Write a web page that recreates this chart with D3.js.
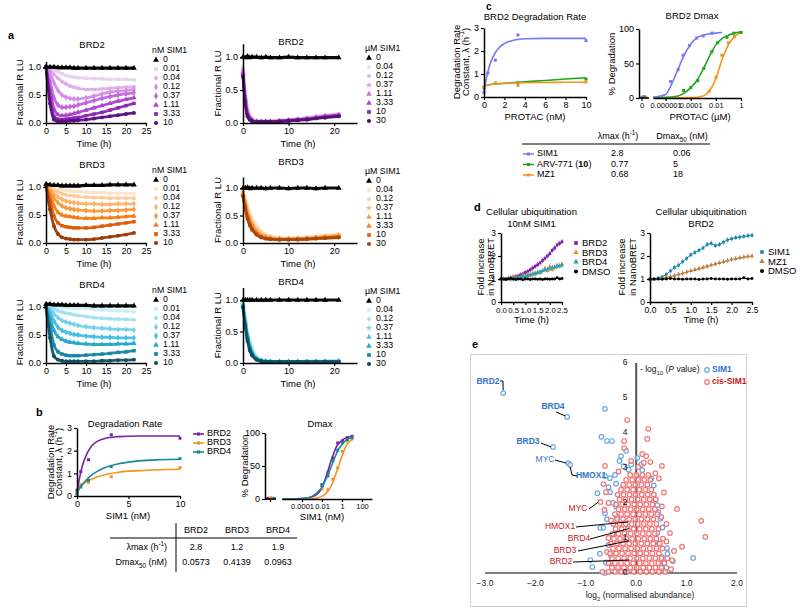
<!DOCTYPE html>
<html><head><meta charset="utf-8">
<script src="https://cdn.jsdelivr.net/npm/d3@7"></script>
<style>body{margin:0;background:#fff}svg{font-family:"Liberation Sans",Arial,Helvetica,sans-serif}</style>
</head><body>
<svg id="fig" width="800" height="611"></svg>
<script>
// ================= DATA =================
const tL=[0,1,2,3,4,5,6,7,8,10,12,14,16,18,20,22];
const tR=[0,0.5,1,1.5,2,3,4,5,6,8,10,12,14,16,18,21];
const concNM=["0","0.01","0.04","0.12","0.37","1.11","3.33","10"];
const concUM=["0","0.04","0.12","0.37","1.11","3.33","10","30"];
const brd2NM=[
[1.0,1.0,1.0,0.99,0.99,0.99,0.99,0.98,0.98,0.98,0.98,0.98,0.98,0.98,0.98,0.98],
[1.0,0.98,0.95,0.92,0.88,0.85,0.83,0.82,0.81,0.8,0.79,0.79,0.78,0.78,0.78,0.77],
[1.0,0.95,0.87,0.8,0.74,0.7,0.66,0.64,0.62,0.6,0.6,0.61,0.62,0.63,0.64,0.65],
[1.0,0.9,0.72,0.58,0.5,0.46,0.44,0.43,0.43,0.45,0.48,0.52,0.55,0.57,0.58,0.6],
[1.0,0.75,0.45,0.32,0.28,0.28,0.29,0.3,0.32,0.36,0.4,0.44,0.47,0.5,0.52,0.54],
[1.0,0.6,0.25,0.15,0.13,0.14,0.15,0.17,0.19,0.23,0.27,0.31,0.35,0.39,0.42,0.45],
[1.0,0.45,0.12,0.07,0.06,0.07,0.08,0.09,0.1,0.13,0.16,0.19,0.23,0.27,0.31,0.35],
[1.0,0.35,0.06,0.03,0.03,0.03,0.04,0.04,0.05,0.06,0.08,0.1,0.12,0.14,0.16,0.18]];
const brd2UM=[
[1.0,0.99,1.01,0.99,1.0,1.0,0.99,1.0,0.99,0.99,1.0,0.99,0.99,0.99,0.99,0.99],
[0.85,0.5,0.25,0.12,0.07,0.04,0.03,0.03,0.03,0.04,0.05,0.07,0.08,0.1,0.12,0.14],
[0.83,0.45,0.2,0.1,0.06,0.03,0.03,0.03,0.03,0.04,0.05,0.06,0.08,0.1,0.11,0.13],
[0.8,0.4,0.18,0.09,0.05,0.03,0.02,0.02,0.03,0.03,0.04,0.06,0.07,0.09,0.11,0.13],
[0.78,0.38,0.16,0.08,0.04,0.02,0.02,0.02,0.02,0.03,0.04,0.05,0.07,0.08,0.1,0.12],
[0.75,0.35,0.14,0.07,0.04,0.02,0.02,0.02,0.02,0.03,0.04,0.05,0.06,0.08,0.1,0.12],
[0.72,0.32,0.12,0.06,0.03,0.02,0.02,0.02,0.02,0.03,0.04,0.05,0.06,0.07,0.09,0.11],
[0.7,0.3,0.1,0.05,0.03,0.02,0.02,0.02,0.02,0.02,0.03,0.04,0.05,0.07,0.08,0.1]];
const brd3NM=[
[1.05,1.04,1.03,1.03,1.02,1.02,1.02,1.02,1.02,1.03,1.03,1.03,1.04,1.04,1.04,1.04],
[1.02,1.0,0.98,0.96,0.95,0.94,0.93,0.92,0.92,0.91,0.9,0.9,0.89,0.89,0.89,0.88],
[1.02,0.98,0.94,0.91,0.88,0.86,0.85,0.84,0.83,0.82,0.81,0.81,0.8,0.8,0.8,0.8],
[1.02,0.96,0.88,0.82,0.78,0.75,0.73,0.72,0.71,0.7,0.7,0.69,0.69,0.7,0.7,0.7],
[1.02,0.92,0.8,0.72,0.66,0.63,0.61,0.6,0.59,0.58,0.57,0.57,0.58,0.58,0.59,0.6],
[1.02,0.85,0.66,0.55,0.5,0.48,0.47,0.46,0.45,0.44,0.44,0.45,0.45,0.46,0.47,0.48],
[1.02,0.75,0.48,0.36,0.31,0.29,0.28,0.27,0.27,0.27,0.28,0.3,0.32,0.34,0.36,0.38],
[1.02,0.6,0.3,0.16,0.1,0.08,0.07,0.06,0.06,0.06,0.07,0.09,0.11,0.13,0.15,0.18]];
const brd3UM=[
[1.0,1.0,1.01,0.99,1.0,1.0,1.0,0.99,1.0,1.0,0.99,1.0,1.0,0.99,1.0,1.0],
[0.95,0.82,0.68,0.56,0.46,0.32,0.22,0.16,0.13,0.1,0.09,0.1,0.11,0.12,0.14,0.16],
[0.93,0.78,0.63,0.5,0.4,0.27,0.19,0.14,0.11,0.09,0.08,0.09,0.1,0.11,0.13,0.15],
[0.92,0.75,0.58,0.46,0.36,0.24,0.16,0.12,0.1,0.08,0.08,0.08,0.09,0.1,0.12,0.14],
[0.9,0.72,0.55,0.43,0.33,0.21,0.14,0.11,0.09,0.07,0.07,0.08,0.09,0.1,0.11,0.13],
[0.88,0.68,0.5,0.38,0.29,0.18,0.12,0.09,0.08,0.07,0.07,0.07,0.08,0.09,0.1,0.12],
[0.86,0.65,0.47,0.35,0.26,0.16,0.11,0.08,0.07,0.06,0.06,0.07,0.07,0.08,0.09,0.11],
[0.85,0.62,0.44,0.32,0.24,0.15,0.1,0.08,0.07,0.06,0.06,0.06,0.07,0.08,0.09,0.1]];
const brd4NM=[
[1.05,1.05,1.04,1.04,1.04,1.03,1.03,1.03,1.03,1.03,1.02,1.02,1.02,1.02,1.02,1.02],
[1.03,1.02,1.01,1.0,1.0,0.99,0.99,0.98,0.98,0.97,0.96,0.95,0.94,0.93,0.93,0.92],
[1.02,0.99,0.96,0.93,0.91,0.89,0.88,0.86,0.85,0.83,0.81,0.8,0.79,0.78,0.78,0.77],
[1.02,0.96,0.88,0.81,0.76,0.73,0.71,0.69,0.67,0.65,0.63,0.62,0.61,0.6,0.6,0.59],
[1.02,0.9,0.75,0.64,0.58,0.55,0.53,0.51,0.5,0.48,0.47,0.46,0.46,0.45,0.45,0.45],
[1.0,0.8,0.58,0.47,0.42,0.39,0.37,0.36,0.35,0.34,0.33,0.33,0.33,0.34,0.34,0.35],
[1.0,0.65,0.32,0.2,0.16,0.14,0.13,0.13,0.13,0.14,0.15,0.16,0.17,0.19,0.2,0.22],
[1.0,0.45,0.12,0.06,0.04,0.03,0.03,0.03,0.03,0.03,0.03,0.04,0.04,0.05,0.05,0.06]];
const brd4UM=[
[1.0,1.0,1.0,1.0,1.0,1.0,1.0,1.0,1.0,1.0,1.0,1.0,1.0,1.0,1.0,1.0],
[0.95,0.72,0.5,0.35,0.24,0.11,0.06,0.04,0.03,0.03,0.03,0.03,0.03,0.03,0.03,0.04],
[0.94,0.7,0.47,0.32,0.21,0.09,0.05,0.03,0.03,0.02,0.02,0.02,0.03,0.03,0.03,0.03],
[0.93,0.67,0.44,0.29,0.19,0.08,0.04,0.03,0.02,0.02,0.02,0.02,0.02,0.02,0.03,0.03],
[0.92,0.65,0.42,0.27,0.17,0.07,0.04,0.03,0.02,0.02,0.02,0.02,0.02,0.02,0.02,0.03],
[0.91,0.63,0.4,0.25,0.15,0.06,0.03,0.02,0.02,0.02,0.02,0.02,0.02,0.02,0.02,0.02],
[0.9,0.61,0.38,0.23,0.14,0.06,0.03,0.02,0.02,0.02,0.02,0.02,0.02,0.02,0.02,0.02],
[0.88,0.58,0.35,0.2,0.12,0.05,0.03,0.02,0.02,0.02,0.02,0.02,0.02,0.02,0.02,0.02]];

// panel b
const bTargets=["BRD2","BRD3","BRD4"];
const bConcPts=[0,0.37,1.11,3.33,10];
const bRatePts=[[0.25,1.08,1.6,2.7,2.55],[0.05,0.5,0.6,0.85,1.25],[0.1,0.4,0.7,1.3,1.65]];
const bFitX=[0,0.25,0.5,1,1.5,2,3,4,6,8,10];
const bRateFit=[[0.2,0.8,1.3,1.9,2.25,2.42,2.57,2.62,2.65,2.65,2.65],
 [0.1,0.35,0.5,0.65,0.76,0.85,0.97,1.05,1.12,1.16,1.18],
 [0.15,0.35,0.5,0.75,0.95,1.1,1.3,1.42,1.55,1.6,1.62]];
const bDmaxX=[0.01,0.04,0.12,0.37,1.11,3.33,10];
const bDmaxPts=[[20,40,62,85,88,93,95],[15,14,30,47,72,88,91],[22,35,58,74,85,90,93]];
const bDmaxZero=[1,2,1];
const bDmaxFitX=[1e-6,1e-5,1e-4,1e-3,3e-3,0.01,0.03,0.1,0.3,1,3,10];
const bDmaxFit=[[0,0,0.5,3,7,17,37,62,80,89,93,95],
 [0,0,0,0.5,1.5,4,10,22,42,65,82,90],
 [0,0,0.5,4,9,18,33,52,70,83,90,93]];
const bDmaxTicks=[1e-4,1e-2,1,100];
const bDmaxTickLabels=["0.0001","0.01","1","100"];
const bLmax=["2.8","1.2","1.9"];
const bDmax50=["0.0573","0.4139","0.0963"];

// panel c
const cNames=["SIM1","ARV-771","MZ1"];
const cConcPts=[[0,0.37,1.11,3.33,10],[0,1.11,3.33,10],[0,1.11,3.33,10]];
const cRatePts=[[0.2,1.04,1.6,2.7,2.45],[0.4,0.6,0.62,0.78],[0.45,0.6,0.5,0.65]];
const cFitX=[0,0.25,0.5,1,1.5,2,3,4,6,8,10];
const cRateFit=[[0.2,0.85,1.3,1.85,2.15,2.32,2.48,2.53,2.55,2.55,2.55],
 [0.45,0.5,0.53,0.56,0.58,0.6,0.63,0.66,0.72,0.78,0.84],
 [0.45,0.5,0.53,0.56,0.58,0.59,0.61,0.62,0.63,0.64,0.64]];
const cDmaxPtsX=[[2.5e-6,1e-5,2.5e-5,8e-5,3e-4,1e-3,5e-3],
 [2.7e-5,1e-4,3.6e-4,1.1e-3,4.8e-3,1.4e-2,7.6e-2,0.27,1],
 [3e-3,1e-2,3e-2,0.1,0.3,1]];
const cDmaxPtsY=[[24,41,62,76,87,90,94],[11,15,25,43,67,80,88,94,95],[10,30,62,80,89,95]];
const cDmaxZero=[1,2,1];
const cDmaxFitX=[[1e-7,1e-6,3e-6,1e-5,3e-5,1e-4,3e-4,1e-3,3e-3,1e-2,3e-2],
 [1e-7,1e-6,1e-5,3e-5,1e-4,3e-4,1e-3,3e-3,1e-2,3e-2,0.1,0.3,1],
 [1e-7,1e-4,1e-3,3e-3,1e-2,3e-2,0.1,0.3,1]];
const cDmaxFitY=[[1,5,20,42,62,78,87,91,93,94,95],
 [1,1,3,7,15,25,42,60,77,86,91,94,96],
 [0,0.5,3,10,28,55,77,89,95]];
const cDmaxTicks=[1e-6,1e-4,1e-2,1];
const cDmaxTickLabels=["0.000001","0.0001","0.01","1"];
const cLmax=["2.8","0.77","0.68"];
const cDmax50=["0.06","5","18"];

// panel d
const dT=[0,0.1,0.2,0.3,0.4,0.5,0.6,0.7,0.8,0.9,1.0,1.1,1.2,1.3,1.4,1.5,1.6,1.7,1.8,1.9,2.0,2.1,2.2,2.3,2.4,2.5];
const dLeftNames=["BRD2","BRD3","BRD4","DMSO"];
const dLeft=[
[1.0,1.0,1.02,1.03,1.05,1.08,1.1,1.13,1.18,1.22,1.28,1.33,1.4,1.48,1.55,1.62,1.7,1.8,1.9,2.0,2.1,2.25,2.35,2.48,2.55,2.62],
[1.0,1.02,0.98,1.05,1.0,1.1,1.02,1.05,1.08,1.15,1.1,1.2,1.15,1.25,1.2,1.3,1.28,1.35,1.45,1.35,1.55,1.4,1.5,1.6,1.55,1.65],
[1.0,0.98,1.0,1.02,1.0,1.02,1.05,1.05,1.08,1.1,1.12,1.15,1.18,1.2,1.25,1.28,1.3,1.35,1.4,1.42,1.45,1.5,1.52,1.55,1.58,1.6],
[1.0,1.0,0.98,1.0,1.02,1.0,0.98,1.0,1.0,0.97,1.0,1.0,0.98,1.0,1.0,0.99,1.0,0.98,1.0,1.0,0.99,1.0,1.0,1.05,1.0,1.02]];
const dRightNames=["SIM1","MZ1","DMSO"];
const dRight=[
[1.0,1.0,1.05,1.1,1.2,1.35,1.5,1.6,1.75,1.9,2.05,2.15,2.25,2.35,2.5,2.55,2.45,2.5,2.6,2.7,2.75,2.8,2.82,2.85,2.88,2.9],
[0.95,0.97,1.0,1.03,1.07,1.1,1.15,1.2,1.25,1.3,1.35,1.4,1.45,1.5,1.55,1.6,1.65,1.7,1.75,1.8,1.85,1.88,1.92,1.95,1.98,2.0],
[1.0,1.0,1.0,0.99,1.0,1.02,1.0,1.0,0.99,1.0,1.0,1.0,0.98,1.0,1.0,1.02,1.0,1.0,1.0,0.99,1.0,1.0,1.0,1.05,1.0,1.02]];

// panel e (log2 abundance, -log10 P)
const eSIM1="-2.64 5.14,-1.37 4.46,-1.65 3.6,-1.35 3.14,-1.31 3.09,-0.62 4.69,-0.69 3.89,-0.58 3.77,-0.48 3.77,-0.2 3.49,-0.3 3.34,0.02 3.29,-0.33 3.2,-0.25 3.05,-0.62 2.77,-0.52 2.71,-0.42 2.8,-0.77 2.28,-0.52 2.31,-0.46 2.0,-0.62 1.71,-0.58 1.54,-0.71 1.29,-0.65 1.29,-0.91 0.37,-0.87 0.17,-0.62 0.0,0.61 0.71,0.73 0.34,1.13 0.43,0.42 1.14,0.51 0.46,0.44 1.74,0.42 1.94,0.12 2.94,0.04 2.71,-0.55 2.45,-0.4 2.55,-0.45 1.1,-0.55 0.8,-0.5 0.5,-0.6 0.3,0.5 0.2,0.55 0.3,0.45 0.85,0.52 1.3,0.48 1.55,0.35 2.5,0.3 2.7,-0.1 3.1,0.1 3.1,-0.4 1.9,-0.38 1.6,0.55 0.05,0.6 0.15,-0.35 0.05,-0.72 0.55,0.62 0.55,0.38 2.1,-0.15 2.95";
const eCisOut="-0.18 4.37,0.24 4.12,0.22 3.83,-0.24 3.77,-0.24 3.57,0.12 3.4,0.2 3.34,0.28 3.17,0.51 3.06,-0.62 3.06,0.04 3.03,-0.65 2.54,-0.6 2.31,-0.71 2.03,-0.63 1.8,0.81 1.83,1.29 1.49,1.37 1.03,0.91 0.75,0.75 0.63,0.71 0.37,0.69 0.11,0.51 1.9,0.67 1.14,0.5 1.6,-0.67 0.03,0.45 2.7,0.38 2.85,-0.35 2.9,0.15 3.15,-0.1 3.2,0.55 2.3,0.6 1.4,0.6 0.9,-0.55 1.0,-0.58 0.6,-0.52 0.3,-0.5 1.5,-0.55 2.0";
const eCisCore=[
"0.03:-0.55 -0.42 -0.3 -0.18 -0.05 0.08 0.2 0.32 0.45 0.58",
"0.15:-0.48 -0.36 -0.24 -0.12 0.01 0.14 0.26 0.38 0.5",
"0.28:-0.55 -0.42 -0.3 -0.18 -0.06 0.07 0.19 0.31 0.44 0.56",
"0.42:-0.48 -0.36 -0.24 -0.12 0.01 0.13 0.26 0.38 0.5 0.62",
"0.56:-0.52 -0.4 -0.28 -0.16 -0.04 0.08 0.2 0.32 0.45",
"0.7:-0.46 -0.34 -0.22 -0.1 0.02 0.14 0.27 0.4 0.52",
"0.84:-0.5 -0.38 -0.26 -0.14 -0.02 0.1 0.22 0.34 0.47",
"0.98:-0.44 -0.32 -0.2 -0.08 0.04 0.16 0.28 0.4 0.53",
"1.12:-0.47 -0.35 -0.23 -0.11 0.01 0.13 0.25 0.37",
"1.26:-0.41 -0.29 -0.17 -0.05 0.07 0.19 0.31 0.44",
"1.4:-0.45 -0.33 -0.21 -0.09 0.03 0.15 0.27 0.4",
"1.54:-0.38 -0.26 -0.14 -0.02 0.1 0.22 0.34",
"1.68:-0.42 -0.3 -0.18 -0.06 0.06 0.18 0.3 0.42",
"1.82:-0.35 -0.23 -0.11 0.01 0.13 0.25 0.37",
"1.96:-0.4 -0.28 -0.16 -0.04 0.08 0.2 0.32",
"2.1:-0.33 -0.21 -0.09 0.03 0.15 0.27 0.39",
"2.24:-0.37 -0.25 -0.13 -0.01 0.11 0.23 0.35",
"2.38:-0.3 -0.18 -0.06 0.06 0.18 0.3",
"2.52:-0.26 -0.14 -0.02 0.1 0.22",
"2.66:-0.2 -0.08 0.04 0.16 0.28",
"2.8:-0.12 0.0 0.12 0.24"];
const eXTicks=[-3,-2,-1,0,1,2];
const eYTicks=[0,1,2,3,4,5,6];

// ================= DRAW =================
const FONT='"Liberation Sans",Arial,Helvetica,sans-serif';
const svg=d3.select("#fig");
function T(x,y,parts,o={}){
  const fs=o.fs||9;
  const t=svg.append("text").attr("x",x).attr("y",y).attr("font-size",fs)
    .attr("text-anchor",o.a||"middle").attr("fill",o.c||"#000").attr("dominant-baseline","middle");
  if(o.fw)t.attr("font-weight",o.fw);
  if(o.rot)t.attr("transform",`rotate(-90 ${x} ${y})`);
  if(typeof parts==="string")parts=[[parts]];
  parts.forEach(([s,k])=>{const sp=t.append("tspan").text(s);
    if(k==="sup")sp.attr("baseline-shift","super").attr("font-size",fs*0.7);
    if(k==="sub")sp.attr("baseline-shift","sub").attr("font-size",fs*0.7);
    if(k==="b")sp.attr("font-weight","bold");
    if(k==="i")sp.attr("font-style","italic");});
  return t;
}
function styleAx(g,fs,lw){g.attr("font-family",FONT);
  g.select(".domain").attr("stroke","#000").attr("stroke-width",lw||1.5);
  g.selectAll(".tick line").attr("stroke","#000").attr("stroke-width",1.2);
  g.selectAll(".tick text").attr("font-size",fs).attr("fill","#000");}
function axL(x0,s,ticks,fmt,fs){const g=svg.append("g").attr("transform",`translate(${x0},0)`)
  .call(d3.axisLeft(s).tickValues(ticks).tickFormat(fmt).tickSize(3).tickSizeOuter(0).tickPadding(2));styleAx(g,fs||9);return g;}
function axB(y0,s,ticks,fmt,fs){const g=svg.append("g").attr("transform",`translate(0,${y0})`)
  .call(d3.axisBottom(s).tickValues(ticks).tickFormat(fmt).tickSize(3).tickSizeOuter(0).tickPadding(2));styleAx(g,fs||9);return g;}
const sym={tri:d3.symbolTriangle,sq:d3.symbolSquare,ci:d3.symbolCircle,di:d3.symbolDiamond,st:d3.symbolStar,wye:d3.symbolWye};
function mark(x,y,type,size,fill){svg.append("path").attr("transform",`translate(${x},${y})`).attr("d",d3.symbol(type,size)()).attr("fill",fill);}

// panel labels
T(8,36,"a",{fs:11,fw:"bold",a:"start"});
T(36,413,"b",{fs:11,fw:"bold",a:"start"});
T(486,7,"c",{fs:10,fw:"bold",a:"start"});
T(474,208,"d",{fs:11,fw:"bold",a:"start"});
T(472,345,"e",{fs:11,fw:"bold",a:"start"});

// ---------- panel a ----------
const purpL=["#000","#ead0f2","#dfaeeb","#d48ce6","#c466dd","#ae43cf","#8d27b3","#5c0f7e"];
const purpR=["#000","#efdcf5","#e4bdee","#d99ce9","#ca72e1","#b445d4","#8e24b0","#52106f"];
const orgL=["#000","#fde3c8","#fccb98","#fbb46a","#f99a3d","#f47d17","#e05a05","#9c3a08"];
const orgR=["#000","#fde6cf","#fcd1a5","#fbba78","#f9a04a","#f68420","#e0650a","#a8460c"];
const cyL=["#000","#c9eef8","#a2e1f3","#74d1ec","#45bfe2","#22a7cc","#1687a6","#0b5267"];
const cyR=["#000","#cdf0f9","#a6e3f4","#7ad3ed","#4bc1e3","#27a9cd","#1889a8","#0c4d60"];
const symL=[sym.tri,sym.sq,sym.ci,sym.di,sym.di,sym.tri,sym.sq,sym.ci];
const symR=[sym.tri,sym.sq,sym.ci,sym.st,sym.tri,sym.tri,sym.sq,sym.ci];

function timePanel(p){
  const x=d3.scaleLinear().domain([0,p.xmax]).range([p.x0,p.x1]);
  const y=d3.scaleLinear().domain([0,p.ytop]).range([p.py0,p.py0-(p.py0-p.py1)*p.ytop]);
  const order=p.series.map((d,i)=>i).slice(1).concat([0]);
  order.forEach(i=>{
    const vals=p.series[i];
    const pts=p.times.map((t,j)=>[t,vals[j]]);
    svg.append("path").attr("d",d3.line().x(d=>x(d[0])).y(d=>y(d[1])).curve(d3.curveMonotoneX)(pts))
      .attr("fill","none").attr("stroke",p.colors[i]).attr("stroke-width",i===0?3.2:2.8).attr("stroke-opacity",0.95);
    pts.forEach(d=>mark(x(d[0]),y(d[1]),p.syms[i],i===0?14:12,p.colors[i]));
  });
  axB(p.py0,x,p.xticks,d3.format("d"));
  axL(p.x0,y,[0,0.5,1],d3.format(".1f"));
  T(p.tx,p.ty,p.title,{fs:9.5});
  T((p.x0+p.x1)/2-2,p.py0+21,"Time (h)",{fs:9.5});
  T(p.ylx,(p.py0+y(p.ytop))/2,"Fractional R LU",{fs:9.5,rot:true});
  T(p.lx-3,p.ly,p.header,{fs:8.8,a:"start"});
  p.labels.forEach((s,i)=>{const yy=p.ly+9+i*p.step;
    mark(p.lx+1,yy,p.syms[i],i===0?16:14,p.colors[i]);
    T(p.lx+8,yy,s,{fs:8.8,a:"start"});});
}
const rows=[["BRD2",brd2NM,brd2UM,purpL,purpR],["BRD3",brd3NM,brd3UM,orgL,orgR],["BRD4",brd4NM,brd4UM,cyL,cyR]];
const pyR=[[123,57],[243,188],[363,300]];
rows.forEach((r,k)=>{
  const off=k*120;
  timePanel({x0:46,x1:146,xmax:25,xticks:[0,5,10,15,20,25],py0:123+off,py1:67+off,ytop:1.1,
    times:tL,series:r[1],colors:r[3],syms:symL,title:r[0],tx:92,ty:45+off,ylx:20,
    lx:155,ly:51+off,header:"nM SIM1",labels:concNM,step:9});
  timePanel({x0:243,x1:357,xmax:25,xticks:[0,10,20],py0:pyR[k][0],py1:pyR[k][1],ytop:1.2,
    times:tR,series:r[2],colors:r[4],syms:symR,title:r[0],tx:291,ty:42+off,ylx:218,
    lx:368,ly:49+off+(k?3:0),header:"\u00b5M SIM1",labels:concUM,step:9});
});

// ---------- panel b ----------
const bCol=["#7b1fa2","#f7931e","#17879a"];
{
  const x=d3.scaleLinear().domain([0,10]).range([77,180]);
  const y=d3.scaleLinear().domain([0,3]).range([496,428]);
  bRateFit.forEach((f,i)=>{
    svg.append("path").attr("d",d3.line().x((d,j)=>x(bFitX[j])).y(d=>y(d)).curve(d3.curveMonotoneX)(f))
      .attr("fill","none").attr("stroke",bCol[i]).attr("stroke-width",1.6);
    bRatePts[i].forEach((v,j)=>mark(x(bConcPts[j]),y(v),sym.sq,9,bCol[i]));
  });
  axL(77,y,[0,1,2,3],d3.format("d"));
  axB(496,x,[0,5,10],d3.format("d"));
  T(125,424,"Degradation Rate",{fs:9.5});
  T(128,516,"SIM1 (nM)",{fs:9.5});
  T(51,462,"Degradation Rate",{fs:9.5,rot:true});
  T(59,462,[["Constant, \u03bb (h"],["-1","sup"],[")"]],{fs:9.5,rot:true});
  bTargets.forEach((s,i)=>{const yy=434+i*9;
    svg.append("line").attr("x1",193).attr("x2",204).attr("y1",yy).attr("y2",yy).attr("stroke",bCol[i]).attr("stroke-width",1.6);
    mark(198.5,yy,sym.sq,10,bCol[i]);
    T(207,yy,s,{fs:9,a:"start"});});
}
{
  const x=d3.scaleLog().domain([1e-6,1e3]).range([282,372]);
  const y=d3.scaleLinear().domain([0,100]).range([499,433]);
  bDmaxFit.forEach((f,i)=>{
    svg.append("path").attr("d",d3.line().x((d,j)=>x(bDmaxFitX[j])).y(d=>y(d)).curve(d3.curveMonotoneX)(f))
      .attr("fill","none").attr("stroke",bCol[i]).attr("stroke-width",1.6);
    bDmaxPts[i].forEach((v,j)=>mark(x(bDmaxX[j]),y(v),sym.sq,9,bCol[i]));
    mark(268+i*3,y(bDmaxZero[i]),sym.sq,9,bCol[i]);
  });
  axL(265,y,[0,50,100],d3.format("d"));
  svg.append("line").attr("x1",265).attr("x2",276).attr("y1",499).attr("y2",499).attr("stroke","#000").attr("stroke-width",1.5);
  svg.append("line").attr("x1",270.5).attr("x2",270.5).attr("y1",499).attr("y2",502).attr("stroke","#000").attr("stroke-width",1.2);
  axB(499,x,bDmaxTicks,(d,i)=>bDmaxTickLabels[i],7.5);
  T(320,424,"Dmax",{fs:9.5});
  T(322,517,"SIM1 (nM)",{fs:9.5});
  T(245,466,"% Degradation",{fs:9.5,rot:true});
}
// b table
svg.append("line").attr("x1",176).attr("x2",176).attr("y1",523).attr("y2",572).attr("stroke","#000").attr("stroke-width",1);
svg.append("line").attr("x1",110).attr("x2",297).attr("y1",538).attr("y2",538).attr("stroke","#000").attr("stroke-width",1);
const bColX=[196,237,278];
bTargets.forEach((s,i)=>{T(bColX[i],531,s,{fs:9});T(bColX[i],548,bLmax[i],{fs:9});T(bColX[i],563,bDmax50[i],{fs:9});});
T(167,548,[["\u03bbmax (h"],["-1","sup"],[")"]],{fs:9,a:"end"});
T(167,563,[["Dmax"],["50","sub"],[" (nM)"]],{fs:9,a:"end"});

// ---------- panel c ----------
const cCol=["#7479ee","#1fa61f","#f7931e"];
{
  const x=d3.scaleLinear().domain([0,10]).range([484,586]);
  const y=d3.scaleLinear().domain([0,3]).range([97,28]);
  [1,2,0].forEach(i=>{const f=cRateFit[i];
    svg.append("path").attr("d",d3.line().x((d,j)=>x(cFitX[j])).y(d=>y(d)).curve(d3.curveMonotoneX)(f))
      .attr("fill","none").attr("stroke",cCol[i]).attr("stroke-width",1.6);
    cRatePts[i].forEach((v,j)=>mark(x(cConcPts[i][j]),y(v),sym.sq,9,cCol[i]));
  });
  axL(484,y,[0,1,2,3],d3.format("d"));
  axB(97,x,[0,2,4,6,8,10],d3.format("d"));
  T(535,17,"BRD2 Degradation Rate",{fs:9.5});
  T(535,117,"PROTAC (nM)",{fs:9.5});
  T(457,62,"Degradation Rate",{fs:9.5,rot:true});
  T(466,62,[["Constant, \u03bb (h"],["-1","sup"],[")"]],{fs:9.5,rot:true});
}
{
  const x=d3.scaleLog().domain([1e-7,1]).range([653,741]);
  const y=d3.scaleLinear().domain([0,100]).range([98,29]);
  [2,1,0].forEach(i=>{
    svg.append("path").attr("d",d3.line().x((d,j)=>x(cDmaxFitX[i][j])).y(d=>y(d)).curve(d3.curveMonotoneX)(cDmaxFitY[i]))
      .attr("fill","none").attr("stroke",cCol[i]).attr("stroke-width",1.6);
    cDmaxPtsY[i].forEach((v,j)=>mark(x(cDmaxPtsX[i][j]),y(v),sym.sq,9,cCol[i]));
    mark(642+i*2,y(cDmaxZero[i]),sym.sq,9,cCol[i]);
  });
  axL(639,y,[0,50,100],d3.format("d"));
  svg.append("line").attr("x1",639).attr("x2",649).attr("y1",98).attr("y2",98).attr("stroke","#000").attr("stroke-width",1.5);
  svg.append("line").attr("x1",642).attr("x2",642).attr("y1",98).attr("y2",101).attr("stroke","#000").attr("stroke-width",1.2);
  T(642,106,"0",{fs:7.5});
  axB(98,x,cDmaxTicks,(d,i)=>cDmaxTickLabels[i],7.5);
  T(692,16,"BRD2 Dmax",{fs:9.5});
  T(700,117,"PROTAC (\u00b5M)",{fs:9.5});
  T(612,64,"% Degradation",{fs:9.5,rot:true});
}
svg.append("line").attr("x1",522).attr("x2",710).attr("y1",144).attr("y2",144).attr("stroke","#000").attr("stroke-width",1);
T(618,137,[["\u03bbmax (h"],["-1","sup"],[")"]],{fs:9});
T(682,137,[["Dmax"],["50","sub"],[" (nM)"]],{fs:9});
cNames.forEach((s,i)=>{const yy=154+i*10.5;
  svg.append("line").attr("x1",523).attr("x2",534).attr("y1",yy).attr("y2",yy).attr("stroke",cCol[i]).attr("stroke-width",1.5);
  mark(528.5,yy,sym.sq,9,cCol[i]);
  T(537,yy,i===1?[[s+" ("],["10","b"],[")"]]:s,{fs:9,a:"start"});
  T(611,yy,cLmax[i],{fs:9,a:"start"});
  T(673,yy,cDmax50[i],{fs:9,a:"start"});
});

// ---------- panel d ----------
function ubPanel(p){
  const x=d3.scaleLinear().domain([0,2.5]).range([p.x0,p.x1]);
  const y=d3.scaleLinear().domain([0,3]).range([302,233]);
  p.series.forEach((vals,i)=>{
    const pts=dT.map((t,j)=>[t,vals[j]]);
    svg.append("path").attr("d",d3.line().x(d=>x(d[0])).y(d=>y(d[1]))(pts)).attr("fill","none").attr("stroke",p.colors[i]).attr("stroke-width",1);
    pts.forEach(d=>{ if(i<p.series.length-1&&d[0]>0.3){svg.append("line").attr("x1",x(d[0])).attr("x2",x(d[0])).attr("y1",y(d[1])-2.5).attr("y2",y(d[1])+2.5).attr("stroke",p.colors[i]).attr("stroke-width",0.7);}
      mark(x(d[0]),y(d[1]),p.syms[i],7,p.colors[i]);});
  });
  axL(p.x0,y,[0,1,2,3],d3.format("d"),8.5);
  axB(302,x,[0,0.5,1,1.5,2,2.5],d3.format(".1f"),p.tfs);
  T((p.x0+p.x1)/2,212,"Cellular ubiquitination",{fs:9.5});
  T((p.x0+p.x1)/2,224,p.sub,{fs:9.5});
  T((p.x0+p.x1)/2,320,"Time (h)",{fs:9.5});
  T(p.x0-p.yl[0],267,"Fold increase",{fs:9.5,rot:true});
  T(p.x0-p.yl[1],267,"in NanoBRET",{fs:9.5,rot:true});
  p.names.forEach((s,i)=>{const yy=p.ly+i*9.5;mark(p.lx,yy,p.syms[i],13,p.colors[i]);T(p.lx+6,yy,s,{fs:9.5,a:"start"});});
}
ubPanel({x0:501,x1:562,series:dLeft,colors:["#7b1fa2","#f7931e","#2aa0c0","#000"],syms:[sym.sq,sym.tri,sym.tri,sym.ci],
  sub:"10nM SIM1",names:dLeftNames,lx:576,ly:243,tfs:7.8,yl:[20,10]});
ubPanel({x0:650,x1:752,series:dRight,colors:["#1a86a8","#c07a3a","#000"],syms:[sym.sq,sym.tri,sym.ci],
  sub:"BRD2",names:dRightNames,lx:762,ly:252,tfs:8.5,yl:[28,17]});

// ---------- panel e ----------
svg.append("rect").attr("x",470.5).attr("y",354.5).attr("width",276).attr("height",252).attr("fill","none").attr("stroke","#d0d0d0").attr("stroke-width",1);
{
  const x=d3.scaleLinear().domain([-3,2]).range([485,737]);
  const y=d3.scaleLinear().domain([0,6]).range([573,363]);
  const parse=s=>s.split(",").map(p=>p.trim().split(" ").map(Number));
  const blue=parse(eSIM1);
  const red=parse(eCisOut);
  eCisCore.forEach(r=>{const [yy,xs]=r.split(":");xs.split(" ").forEach(v=>red.push([+v,+yy]));});
  svg.append("line").attr("x1",x(0)).attr("x2",x(0)).attr("y1",y(0)).attr("y2",y(6)).attr("stroke","#555").attr("stroke-width",2);
  svg.append("line").attr("x1",x(-3)).attr("x2",x(2)).attr("y1",y(0)).attr("y2",y(0)).attr("stroke","#555").attr("stroke-width",1.5);
  const BL="#6fa7dd",RD="#f27474";
  svg.append("g").selectAll("circle").data(blue).join("circle").attr("cx",d=>x(d[0])).attr("cy",d=>y(d[1])).attr("r",2.3)
    .attr("fill","#fff").attr("fill-opacity",0.6).attr("stroke",BL).attr("stroke-width",1.2);
  svg.append("g").selectAll("circle").data(red).join("circle").attr("cx",d=>x(d[0])).attr("cy",d=>y(d[1])).attr("r",2.3)
    .attr("fill","#fff").attr("fill-opacity",0.6).attr("stroke",RD).attr("stroke-width",1.2);
  eXTicks.forEach(v=>T(x(v),584,d3.format(".1f")(v),{fs:8.5,c:"#222"}));
  eYTicks.forEach(v=>T(x(0)-11,y(v),String(v),{fs:8.5,c:"#111"}));
  T(640,370,[["- log"],["10","sub"],[" ("],["P","i"],[" value)"]],{fs:8.5,a:"start",c:"#111"});
  T(640,596,[["log"],["2","sub"],[" (normalised abundance)"]],{fs:8.5,c:"#222"});
  svg.append("circle").attr("cx",707).attr("cy",370).attr("r",2.3).attr("fill","none").attr("stroke",BL).attr("stroke-width",1.2);
  T(712,370,"SIM1",{fs:8.5,a:"start",fw:"bold",c:"#2f75c8"});
  svg.append("circle").attr("cx",707).attr("cy",382).attr("r",2.3).attr("fill","none").attr("stroke",RD).attr("stroke-width",1.2);
  T(712,382,"cis-SIM1",{fs:8.5,a:"start",fw:"bold",c:"#c8161d"});
  const pl=(pts)=>svg.append("polyline").attr("points",pts.map(p=>p.join(",")).join(" ")).attr("fill","none").attr("stroke","#000").attr("stroke-width",1);
  const BT="#2f75c8",RT="#c8161d";
  const bp=i=>[x(blue[i][0]),y(blue[i][1])];
  T(488,382,"BRD2",{fs:8.5,fw:"bold",c:BT});pl([[500,381],[503,381],[bp(0)[0],bp(0)[1]-3]]);
  T(553,407,"BRD4",{fs:8.5,fw:"bold",c:BT});pl([[556,412],[bp(1)[0]-2,bp(1)[1]-1]]);
  T(528,442,"BRD3",{fs:8.5,fw:"bold",c:BT});pl([[541,443],[bp(2)[0]-2,bp(2)[1]]]);
  T(545,460,"MYC",{fs:8.5,c:BT});pl([[555,460],[bp(3)[0]-2,bp(3)[1]]]);
  T(591,476,"HMOX1",{fs:8.5,fw:"bold",c:BT});pl([[bp(4)[0],bp(4)[1]+2],[572,475],[577,476]]);
  T(578,509,"MYC",{fs:8.5,c:RT});pl([[589,509],[x(-0.71)-2,y(2.03)]]);
  T(560,527,"HMOX1",{fs:8.5,c:RT});pl([[576,527],[x(-0.16),y(1.46)]]);
  T(579,539,"BRD4",{fs:8.5,c:RT});pl([[590,539],[x(-0.14),y(1.27)]]);
  T(565,551,"BRD3",{fs:8.5,c:RT});pl([[578,551],[x(-0.14),y(0.92)]]);
  T(561,562,"BRD2",{fs:8.5,c:RT});pl([[573,562],[x(-0.14),y(0.37)]]);
}
</script>
</body></html>
